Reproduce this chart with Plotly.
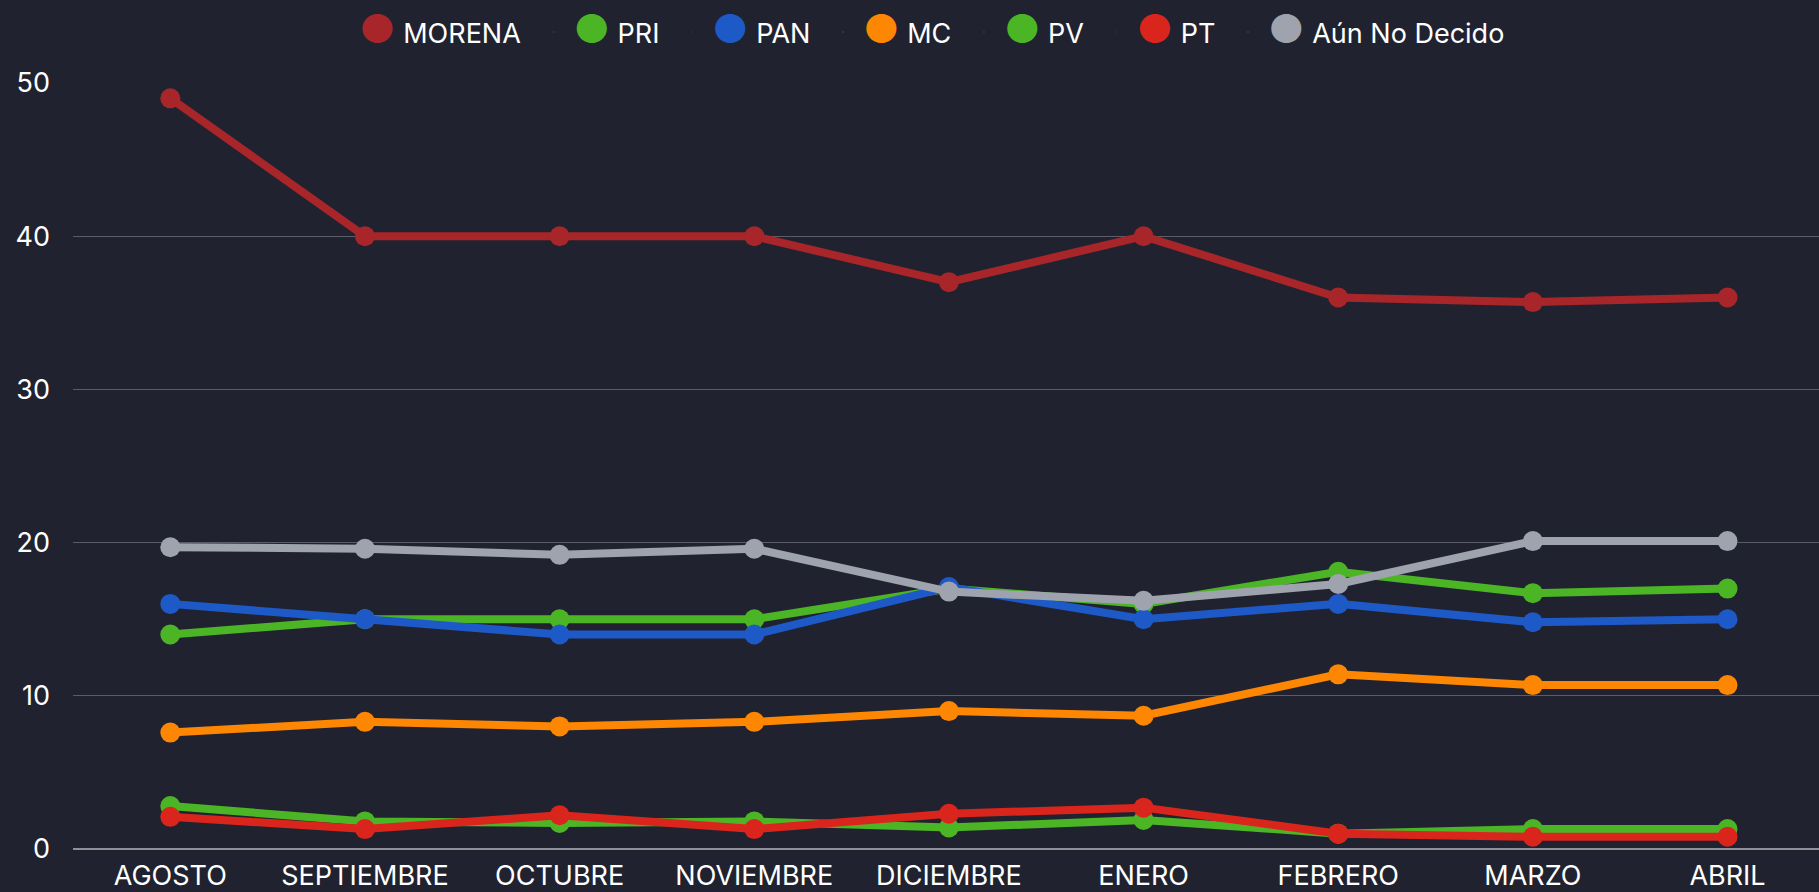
import plotly.graph_objects as go

months = ["AGOSTO", "SEPTIEMBRE", "OCTUBRE", "NOVIEMBRE", "DICIEMBRE",
          "ENERO", "FEBRERO", "MARZO", "ABRIL"]
morena = [49, 40, 40, 40, 37, 40, 36, 35.7, 36]
pri = [14, 15, 15, 15, 17, 16, 18.1, 16.7, 17]
pan = [16, 15, 14, 14, 17.1, 15, 16, 14.8, 15]
mc = [7.6, 8.3, 8.0, 8.3, 9.0, 8.7, 11.4, 10.7, 10.7]
pv = [2.8, 1.8, 1.7, 1.8, 1.4, 1.9, 1.0, 1.3, 1.3]
pt = [2.1, 1.3, 2.2, 1.3, 2.3, 2.7, 1.0, 0.8, 0.8]
indecisos = [19.7, 19.6, 19.2, 19.6, 16.8, 16.2, 17.3, 20.1, 20.1]

series_names = ["MORENA", "PRI", "PAN", "MC", "PV", "PT", "Aún No Decido"]
series_values = [morena, pri, pan, mc, pv, pt, indecisos]
series_colors = ["#a8262a", "#4cb526", "#1e59c8", "#fd8602", "#4cb526", "#da251d", "#9ea3ad"]

BG = "#20232f"
FONT = "Inter"

fig = go.Figure()
for name, vals, col in zip(series_names, series_values, series_colors):
    fig.add_trace(go.Scatter(
        x=months, y=vals, mode="lines+markers", name=name,
        line=dict(color=col, width=8),
        marker=dict(color=col, size=20),
        showlegend=False, cliponaxis=False,
    ))

# legend entries (big round dots)
for i, (name, col) in enumerate(zip(series_names, series_colors)):
    trail = "\u00a0" if i < len(series_names) - 1 else ""
    fig.add_trace(go.Scatter(
        x=[None], y=[None], mode="markers",
        marker=dict(color=col, opacity=0, size=1),
        name=f"<span style='color:{col};font-size:40px'>●</span>\u00a0{name}{trail}",
        showlegend=True,
    ))

fig.update_layout(
    width=1819, height=892,
    paper_bgcolor=BG, plot_bgcolor=BG,
    font=dict(family=FONT, size=27, color="#ffffff"),
    margin=dict(l=73, r=0, t=83, b=43),
    legend=dict(orientation="h", x=0.482, xanchor="center", y=1.066, yanchor="middle",
                font=dict(family=FONT, size=27, color="#ffffff"),
                bgcolor="rgba(0,0,0,0)", itemwidth=30, itemclick=False),
    xaxis=dict(range=[-0.5, 8.47], showgrid=False, zeroline=False,
               showline=False, ticks="", ticklabelstandoff=8,
               tickfont=dict(size=27, color="#ffffff")),
    yaxis=dict(range=[0, 50], dtick=10, showgrid=True, gridcolor="#5a5d67", gridwidth=1,
               zeroline=True, zerolinecolor="#8f9199", zerolinewidth=2,
               showline=False, ticks="", ticklabelstandoff=22,
               tickfont=dict(size=27, color="#ffffff")),
)

fig.write_html("out.html", config={"displayModeBar": False},
               post_script="document.body.style.margin='0';document.body.style.overflow='hidden';")
